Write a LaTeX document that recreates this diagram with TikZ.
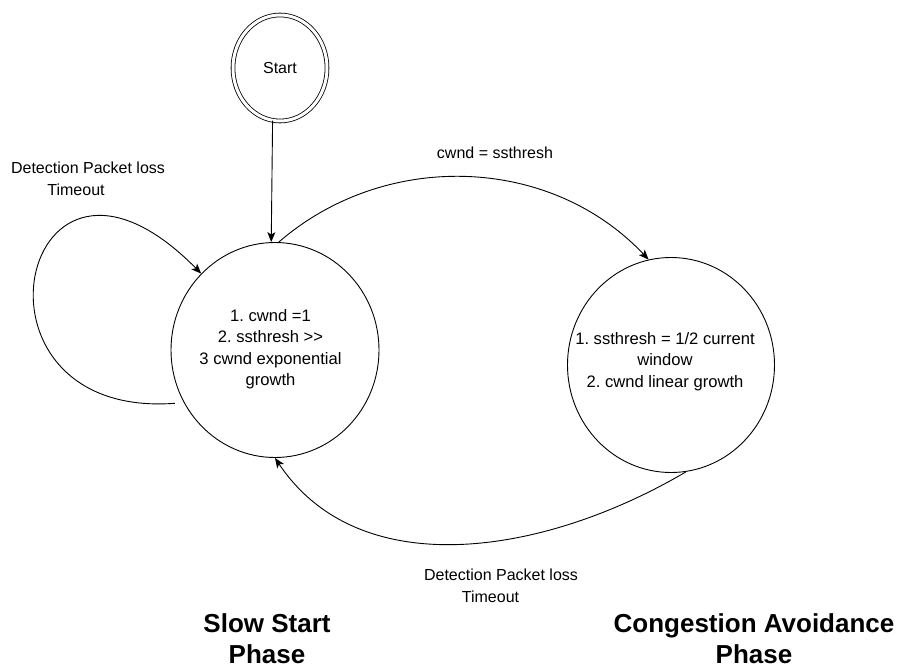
\documentclass[tikz,border=0pt]{standalone}
\usepackage{fontspec}
\setmainfont{Liberation Sans}
\usetikzlibrary{arrows.meta,shapes.geometric}

\tikzset{
  state/.style={draw, ellipse, line width=0.9pt, inner sep=0pt},
  startstate/.style={state, double, double distance=3pt, line width=0.8pt,
                     font=\fontsize{16}{20}\selectfont},
  body/.style={align=center, inner sep=0pt, font=\fontsize{16.6}{21.5}\selectfont},
  arr/.style={line width=0.9pt, -{Stealth[length=10pt,width=8pt,inset=2.5pt]}},
  lbl/.style={align=center, inner sep=0pt, font=\fontsize{16}{22}\selectfont},
  phase/.style={align=center, inner sep=0pt, font=\fontsize{26}{31}\selectfont\bfseries},
}

\begin{document}
\frenchspacing
\begin{tikzpicture}[x=1pt, y=-1pt]
  \useasboundingbox (0,0) rectangle (900,668);

  % states
  \node[startstate, minimum width=94, minimum height=106] (start) at (280,68) {Start};
  \node[state, minimum width=208, minimum height=215] (ss) at (275,350) {};
  \node[state, minimum width=207, minimum height=215] (ca) at (671,365) {};

  % state contents
  \node[body] (sstext) at (270.5,349)
    {1. cwnd =1\\2. ssthresh >{}>\\3 cwnd exponential\\growth};
  \node[body] (catext) at (665,361.5)
    {1. ssthresh = 1/2 current\\window\\2. cwnd linear growth};

  % transitions
  \draw[arr] (start.262) -- (ss.92);
  \draw[arr] (ss.88) .. controls (385,150) and (550,155) .. (ca.102);
  \draw[arr] (ca.278) .. controls (545,555) and (360,585) .. (ss.270);
  \draw[arr, shorten <=9pt] (ss.210) .. controls (-50,420) and (20,90) .. (ss.134);

  % transition labels
  \node[lbl] (lup) at (495,153) {cwnd = ssthresh};
  \node[lbl] (lloop) at (88,179) {Detection Packet loss\\Timeout\hspace*{24pt}};
  \node[lbl] (ldown) at (501,586) {Detection Packet loss\\Timeout\hspace*{21pt}};

  % phase titles
  \node[phase] (pss) at (267,639) {Slow Start\\Phase};
  \node[phase] (pca) at (754,639) {Congestion Avoidance\\Phase};
\end{tikzpicture}
\end{document}
